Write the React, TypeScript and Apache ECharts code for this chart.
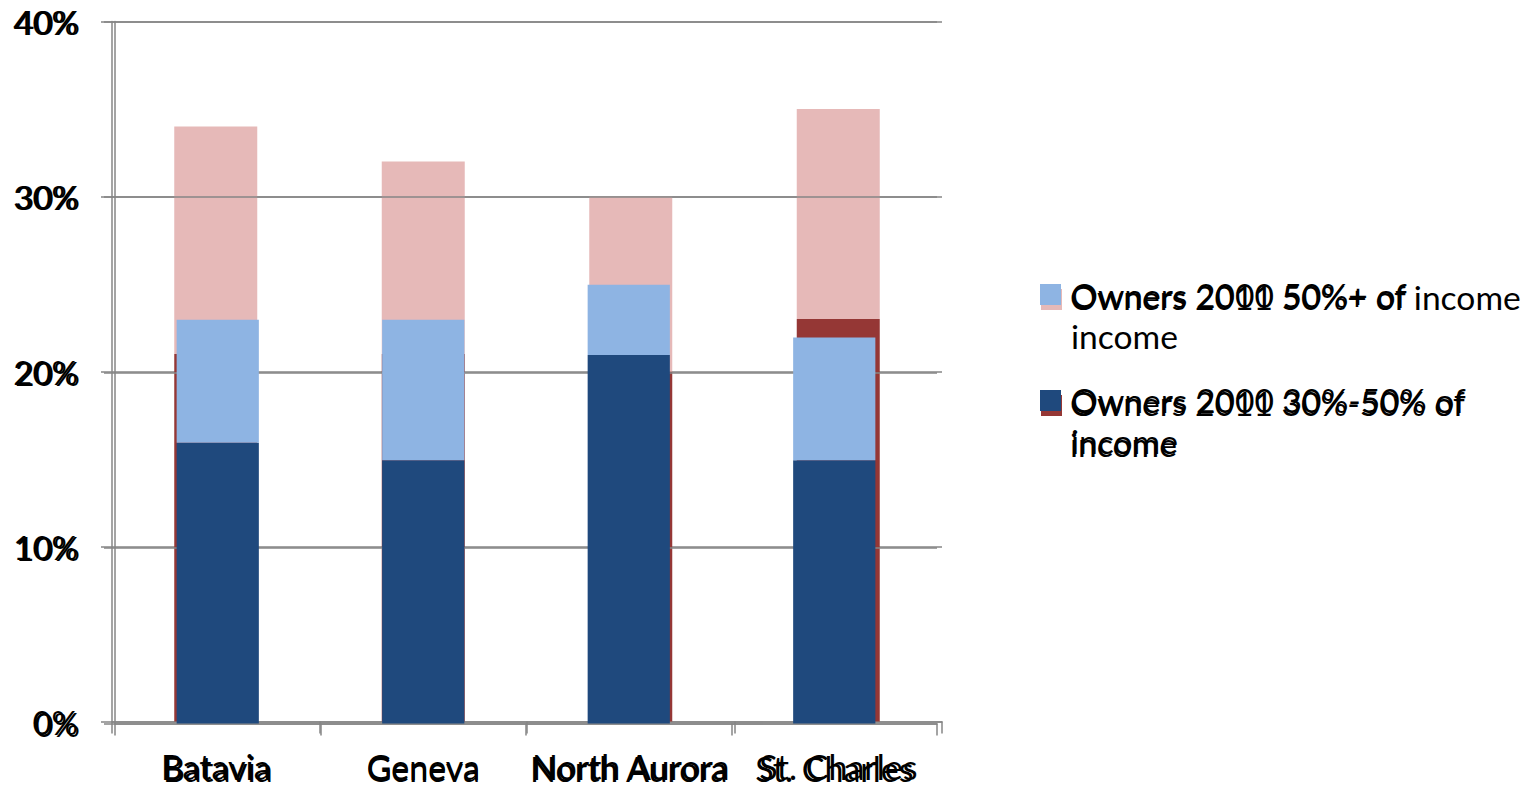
import React, { useEffect, useRef } from 'react';
import * as echarts from 'echarts';

const categories = ['Batavia', 'Geneva', 'North Aurora', 'St. Charles'];
const owners2011_30to50 = [21, 21, 20, 23];
const owners2011_50plus = [13, 11, 10, 12];
const owners2000_30to50 = [16, 15, 21, 15];
const owners2000_50plus = [7, 8, 4, 7];

const name2011a = 'Owners 2011 30%-50% of income';
const name2011b = 'Owners 2011 50%+ of income';
const name2000a = 'Owners 2000 30%-50% of income';
const name2000b = 'Owners 2000 50%+ of income';

const FONT = 'Lato';
const FS = 34;
const LEGEND_FS = 33.6;
const GRID = '#868686';

export default function App() {
  const ref = useRef<HTMLDivElement>(null);
  useEffect(() => {
    const chart = echarts.init(ref.current!, null, { renderer: 'svg' });
    const lineStyle = { color: GRID, width: 1.5 };
    const mkX = (gridIndex: number, z: number) => ({
      type: 'category',
      gridIndex,
      z,
      data: categories,
      axisLine: { show: true, lineStyle },
      axisTick: { show: true, length: 12, lineStyle },
      axisLabel: { color: '#000', fontFamily: FONT, fontSize: FS, lineHeight: 30, margin: 30, interval: 0 },
      splitLine: { show: false },
    });
    const mkY = (gridIndex: number, z: number, margin: number) => ({
      type: 'value',
      gridIndex,
      z,
      min: 0,
      max: 40,
      interval: 10,
      axisLine: { show: true, lineStyle },
      axisTick: { show: true, length: 11, lineStyle },
      axisLabel: { formatter: '{value}%', color: '#000', fontFamily: FONT, fontSize: 33, margin },
      splitLine: { show: true, lineStyle },
    });
    const legendText = (x: number, y: number, text: string) => ({
      type: 'text',
      x,
      y,
      z: 20,
      style: { text, fill: '#000', font: `${LEGEND_FS}px ${FONT}`, lineHeight: 41, verticalAlign: 'top', align: 'left' },
    });
    chart.setOption({
      animation: false,
      backgroundColor: '#fff',
      grid: [
        { left: 112, top: 21.5, width: 830, height: 700, outerBoundsMode: 'none', containLabel: false },
        { left: 115, top: 21.5, width: 822, height: 702, outerBoundsMode: 'none', containLabel: false },
      ],
      xAxis: [mkX(0, 0), mkX(1, 2)],
      yAxis: [mkY(0, 0, 34), mkY(1, 2, 35)],
      series: [
        { name: name2011a, type: 'bar', xAxisIndex: 0, yAxisIndex: 0, stack: 'y2011', barWidth: '40%', z: 1, itemStyle: { color: '#953735' }, data: owners2011_30to50 },
        { name: name2011b, type: 'bar', xAxisIndex: 0, yAxisIndex: 0, stack: 'y2011', barWidth: '40%', z: 1, itemStyle: { color: '#E6B9B8' }, data: owners2011_50plus },
        { name: name2000a, type: 'bar', xAxisIndex: 1, yAxisIndex: 1, stack: 'y2000', barWidth: '40%', z: 3, itemStyle: { color: '#1F497D' }, data: owners2000_30to50 },
        { name: name2000b, type: 'bar', xAxisIndex: 1, yAxisIndex: 1, stack: 'y2000', barWidth: '40%', z: 3, itemStyle: { color: '#8EB4E3' }, data: owners2000_50plus },
      ],
      graphic: [
        { type: 'rect', z: 10, shape: { x: 1041, y: 289, width: 21, height: 21 }, style: { fill: '#E6B9B8' } },
        { type: 'rect', z: 10, shape: { x: 1041, y: 395, width: 21, height: 21 }, style: { fill: '#953735' } },
        { type: 'rect', z: 11, shape: { x: 1040, y: 284, width: 21, height: 21 }, style: { fill: '#8EB4E3' } },
        { type: 'rect', z: 11, shape: { x: 1040, y: 390, width: 21, height: 21 }, style: { fill: '#1F497D' } },
        legendText(1070, 276, name2011b),
        legendText(1070, 382, 'Owners 2011 30%-50% of\nincome'),
        legendText(1071, 274, 'Owners 2000 50%+ of\nincome'),
        legendText(1071, 379, 'Owners 2000 30%-50% of\nincome'),
      ],
    });
    return () => chart.dispose();
  }, []);
  return <div ref={ref} style={{ position: 'fixed', left: 0, top: 0, width: 1537, height: 788 }} />;
}
